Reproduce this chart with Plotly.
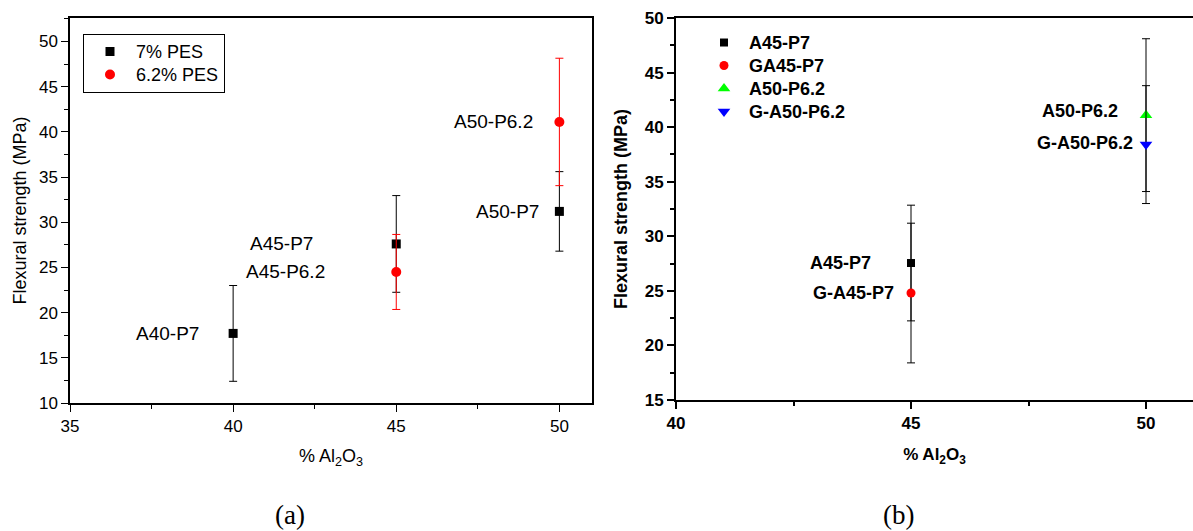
import plotly.graph_objects as go

# ---------------- data: panel (a) ----------------
a_x_p7 = [40, 45, 50]
a_y_p7 = [17.7, 27.6, 31.2]
a_err_p7 = [5.3, 5.35, 4.4]
a_lab_p7 = ["A40-P7", "A45-P7", "A50-P7"]

a_x_p62 = [45, 50]
a_y_p62 = [24.5, 41.1]
a_err_p62 = [4.15, 7.05]
a_lab_p62 = ["A45-P6.2", "A50-P6.2"]

# ---------------- data: panel (b) ----------------
b_names = ["A45-P7", "GA45-P7", "A50-P6.2", "G-A50-P6.2"]
b_labels = ["A45-P7", "G-A45-P7", "A50-P6.2", "G-A50-P6.2"]
b_x = [45, 45, 50, 50]
b_y = [27.55, 24.8, 41.1, 38.4]
b_err = [5.3, 6.4, 7.0, 5.4]

a_ticks_x = [35, 40, 45, 50]
b_ticks_x = [40, 45, 50]

# ---------------- styles ----------------
W, H = 1193, 531
ML, MR, MT, MB = 70, 0, 18, 128
PW, PH = W - ML - MR, H - MT - MB

def px_x(p):
    return (p - ML) / PW

def px_y(p):
    return (H - MB - p) / PH

REG = "Liberation Sans, Arial, sans-serif"
BOLD = "Liberation Sans, Arial, sans-serif"

a_shift_p7 = [-32, -81, -18]
a_shift_p62 = [-69, -24]
b_shift = [-38, -15, -26, -11]
b_yshift = [0, 0, 4, 2]
b_colors = ["#000000", "#ff0000", "#00ff00", "#0000ff"]
b_symbols = ["square", "circle", "triangle-up", "triangle-down"]
b_sizes = [8, 9, 11, 11]

def leg_reg(t):
    return '<span style="font-size:18px">%s</span>' % t

def leg_bold(t):
    return '<span style="font-size:18px;font-weight:bold">%s</span>' % t

fig = go.Figure()

fig.add_trace(go.Scatter(
    x=a_x_p7, y=a_y_p7, mode="markers", name=leg_reg("7% PES"),
    marker=dict(symbol="square", size=9, color="#000000"),
    error_y=dict(type="data", array=a_err_p7, color="#000000", thickness=1, width=4),
    xaxis="x", yaxis="y", legend="legend"))
fig.add_trace(go.Scatter(
    x=a_x_p62, y=a_y_p62, mode="markers", name=leg_reg("6.2% PES"),
    marker=dict(symbol="circle", size=10, color="#ff0000"),
    error_y=dict(type="data", array=a_err_p62, color="#ff0000", thickness=1, width=4),
    xaxis="x", yaxis="y", legend="legend"))

for i in range(len(b_names)):
    fig.add_trace(go.Scatter(
        x=[b_x[i]], y=[b_y[i]], mode="markers", name=leg_bold(b_names[i]),
        marker=dict(symbol=b_symbols[i], size=b_sizes[i], color=b_colors[i]),
        error_y=dict(type="data", array=[b_err[i]], color="#000000", thickness=1, width=4),
        xaxis="x2", yaxis="y2", legend="legend2"))

annotations = []
for xs, ys, labs, shifts in [(a_x_p7, a_y_p7, a_lab_p7, a_shift_p7),
                             (a_x_p62, a_y_p62, a_lab_p62, a_shift_p62)]:
    for x, y, t, s in zip(xs, ys, labs, shifts):
        annotations.append(dict(x=x, y=y, xref="x", yref="y", text=t, showarrow=False,
                                xanchor="right", yanchor="middle", xshift=s,
                                font=dict(family=REG, size=19, color="#000000")))
for x, y, t, s, ys_ in zip(b_x, b_y, b_labels, b_shift, b_yshift):
    annotations.append(dict(x=x, y=y, xref="x2", yref="y2", text="<b>%s</b>" % t, showarrow=False,
                            xanchor="right", yanchor="middle", xshift=s, yshift=ys_,
                            font=dict(family=BOLD, size=18, color="#000000")))

annotations.append(dict(x=px_x(290), y=px_y(515), xref="paper", yref="paper", text="(a)",
                        showarrow=False, xanchor="center", yanchor="middle",
                        font=dict(family="Liberation Serif, Times New Roman, serif", size=27, color="#000000")))
annotations.append(dict(x=px_x(898), y=px_y(515), xref="paper", yref="paper", text="(b)",
                        showarrow=False, xanchor="center", yanchor="middle",
                        font=dict(family="Liberation Serif, Times New Roman, serif", size=27, color="#000000")))

common_axis = dict(showgrid=False, zeroline=False, ticks="outside", tickcolor="#000000",
                   color="#000000")

fig.update_layout(
    width=W, height=H,
    margin=dict(l=ML, r=MR, t=MT, b=MB),
    paper_bgcolor="white", plot_bgcolor="white",
    showlegend=True,
    xaxis=dict(domain=[0, px_x(592)], range=[35, 51], tickmode="array", tickvals=a_ticks_x,
               ticklen=7, tickwidth=1.2, linecolor="#000000", linewidth=1.5, mirror=True,
               showline=True, minor=dict(dtick=2.5, tick0=35, ticks="outside", ticklen=4,
                                         tickcolor="#000000", tickwidth=1.2),
               tickfont=dict(family=REG, size=17, color="#000000"),
               title=dict(text="% Al<sub>2</sub>O<sub>3</sub>", standoff=14,
                          font=dict(family=REG, size=18, color="#000000")),
               anchor="y", **common_axis),
    yaxis=dict(domain=[0, 1], range=[10, 52.6], dtick=5, tick0=10,
               ticklen=7, tickwidth=1.2, linecolor="#000000", linewidth=1.5, mirror=True,
               showline=True, minor=dict(dtick=2.5, tick0=10, ticks="outside", ticklen=4,
                                         tickcolor="#000000", tickwidth=1.2),
               tickfont=dict(family=REG, size=17, color="#000000"),
               title=dict(text="Flexural strength (MPa)", standoff=8,
                          font=dict(family=REG, size=18, color="#000000")),
               anchor="x", **common_axis),
    xaxis2=dict(domain=[px_x(676), 1], range=[40, 51], tickmode="array", tickvals=b_ticks_x,
                ticklen=7, tickwidth=1.5, linecolor="#000000", linewidth=2, mirror=True,
                showline=True, minor=dict(dtick=2.5, tick0=40, ticks="outside", ticklen=4,
                                          tickcolor="#000000", tickwidth=1.5),
                tickfont=dict(family=BOLD, size=17, color="#000000", weight="bold"),
                title=dict(text="<b>% Al<sub>2</sub>O<sub>3</sub></b>", standoff=16,
                           font=dict(family=BOLD, size=17, color="#000000")),
                anchor="y2", **common_axis),
    yaxis2=dict(domain=[px_y(400), 1], range=[15, 50], dtick=5, tick0=15,
                ticklen=7, tickwidth=1.5, linecolor="#000000", linewidth=2, mirror=False,
                showline=True, minor=dict(dtick=2.5, tick0=15, ticks="outside", ticklen=4,
                                          tickcolor="#000000", tickwidth=1.5),
                tickfont=dict(family=BOLD, size=17, color="#000000", weight="bold"),
                title=dict(text="<b>Flexural strength (MPa)</b>", standoff=12,
                           font=dict(family=BOLD, size=18, color="#000000")),
                anchor="x2", **common_axis),
    legend=dict(x=px_x(83), y=px_y(34), xanchor="left", yanchor="top",
                bordercolor="#000000", borderwidth=1, bgcolor="rgba(255,255,255,0)",
                itemwidth=42, font=dict(family=REG, size=15.4, color="#000000")),
    legend2=dict(x=px_x(699), y=px_y(26), xanchor="left", yanchor="top",
                 borderwidth=0, bgcolor="rgba(255,255,255,0)",
                 itemwidth=40, font=dict(family=BOLD, size=15.4, color="#000000")),
    annotations=annotations,
)

fig.write_html(
    "out.html",
    config={"displayModeBar": False},
    post_script="document.body.style.margin='0';document.body.style.overflow='hidden';",
)
